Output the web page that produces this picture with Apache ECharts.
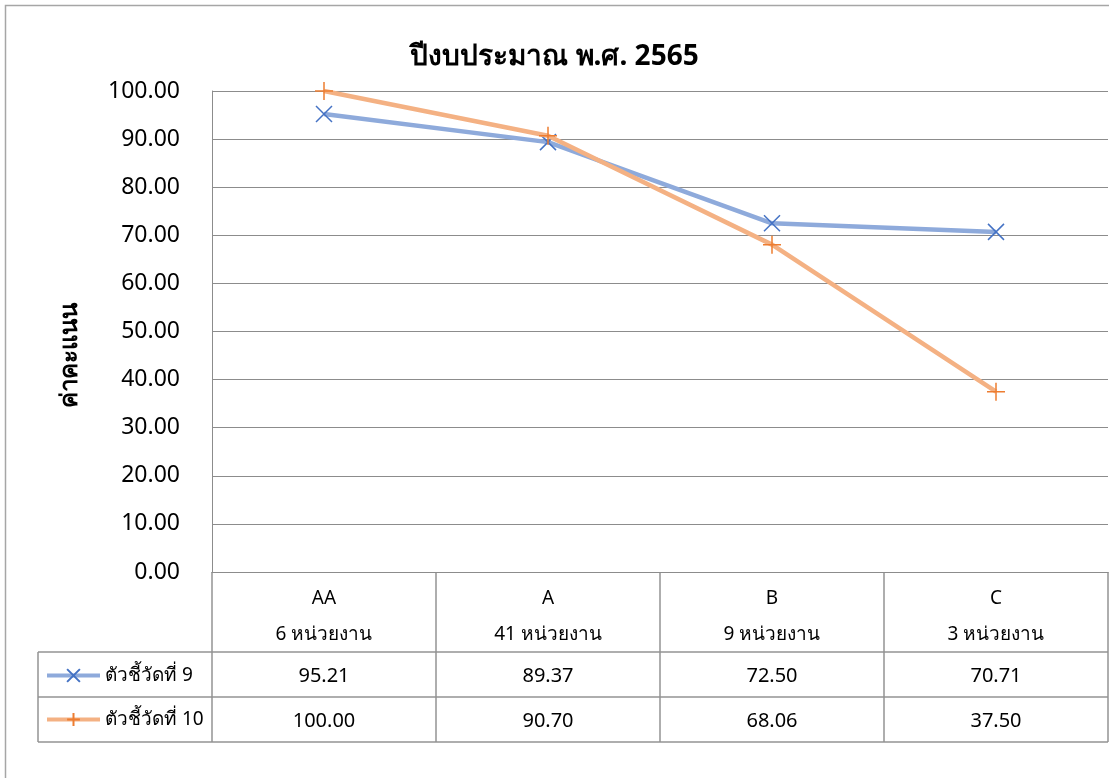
<!DOCTYPE html>
<html>
<head>
<meta charset="utf-8">
<script src="https://cdn.jsdelivr.net/npm/echarts@6/dist/echarts.min.js"></script>
<style>
  html, body { margin: 0; padding: 0; background: #fff; }
  #chart { width: 1109px; height: 778px; }
</style>
</head>
<body>
<div id="chart"></div>
<script>
// data
var categories = ['AA', 'A', 'B', 'C'];
var unitCounts = ['6 หน่วยงาน', '41 หน่วยงาน', '9 หน่วยงาน', '3 หน่วยงาน'];
var seriesNames = ['ตัวชี้วัดที่ 9', 'ตัวชี้วัดที่ 10'];
var kpi9 = [95.21, 89.37, 72.50, 70.71];
var kpi10 = [100.00, 90.70, 68.06, 37.50];
var yTicks = [0, 10, 20, 30, 40, 50, 60, 70, 80, 90, 100];

var FONT = '"Noto Sans", "DejaVu Sans", sans-serif';
var GRID_COLOR = '#8c8c8c';
var TABLE_COLOR = '#939393';

var xLabels = categories.map(function (c, i) { return c + '\n' + unitCounts[i]; });

var myChart = echarts.init(document.getElementById('chart'));
var option = {
    animation: false,
    textStyle: { fontFamily: FONT },
    title: {
        text: 'ปีงบประมาณ พ.ศ. 2565',
        left: 'center',
        top: 38,
        textStyle: { fontSize: 28, fontWeight: 'bold', color: '#000', fontFamily: FONT }
    },
    legend: {
        orient: 'vertical',
        left: 45,
        top: 666,
        padding: 0,
        itemWidth: 53,
        itemHeight: 16,
        itemGap: 25,
        lineStyle: { width: 4 },
        textStyle: { fontSize: 19, color: '#000', fontFamily: FONT },
        data: seriesNames
    },
    grid: { left: 212, right: 1, top: 91, bottom: 206, containLabel: false },
    xAxis: {
        type: 'category',
        data: xLabels,
        boundaryGap: true,
        axisLine: { show: true, lineStyle: { color: GRID_COLOR, width: 1 } },
        axisTick: { show: false },
        axisLabel: {
            margin: 9,
            fontSize: 19,
            lineHeight: 36,
            color: '#000',
            fontFamily: FONT
        }
    },
    yAxis: {
        type: 'value',
        min: yTicks[0],
        max: yTicks[yTicks.length - 1],
        interval: yTicks[1] - yTicks[0],
        axisLine: { show: true, lineStyle: { color: GRID_COLOR, width: 1 } },
        axisTick: { show: false },
        splitLine: { lineStyle: { color: GRID_COLOR, width: 1 } },
        axisLabel: {
            margin: 32,
            fontSize: 23,
            color: '#000',
            fontFamily: FONT,
            formatter: function (v) { return v.toFixed(2); }
        }
    },
    series: [
        {
            name: seriesNames[0],
            type: 'line',
            data: kpi9,
            symbol: 'path://M0,0L10,10M10,0L0,10',
            symbolSize: 16,
            showAllSymbol: true,
            lineStyle: { color: '#8eaadb', width: 4.5 },
            itemStyle: { color: '#4472c4', borderColor: '#4472c4', borderWidth: 1.5 },
            z: 3
        },
        {
            name: seriesNames[1],
            type: 'line',
            data: kpi10,
            symbol: 'path://M5,0L5,10M0,5L10,5',
            symbolSize: 18,
            showAllSymbol: true,
            lineStyle: { color: '#f4b183', width: 4.5 },
            itemStyle: { color: '#ed7d31', borderColor: '#ed7d31', borderWidth: 1.5 },
            z: 4
        }
    ]
};
myChart.setOption(option);

// data table under the plot, placed from the axis scale
function drawTable() {
    var xs = categories.map(function (c, i) {
        return myChart.convertToPixel({ xAxisIndex: 0 }, i);
    });
    var step = xs[1] - xs[0];
    var yBase = myChart.convertToPixel({ yAxisIndex: 0 }, 0);
    var headBottom = yBase + 80;
    var row1Bottom = headBottom + 45;
    var row2Bottom = row1Bottom + 45;
    var leftEdge = 38;
    var plotLeft = xs[0] - step / 2;
    var plotRight = xs[xs.length - 1] + step / 2;
    var els = [];
    var ls = { stroke: TABLE_COLOR, lineWidth: 1.5 };

    // outer chart frame
    els.push({ type: 'rect', shape: { x: 5.5, y: 5.5, width: 1200, height: 1000 },
        style: { fill: 'none', stroke: '#a6a6a6', lineWidth: 1.5 }, silent: true });

    [headBottom, row1Bottom, row2Bottom].forEach(function (y) {
        els.push({ type: 'line', shape: { x1: leftEdge, y1: y, x2: plotRight, y2: y }, style: ls });
    });
    els.push({ type: 'line', shape: { x1: leftEdge, y1: headBottom, x2: leftEdge, y2: row2Bottom }, style: ls });
    for (var i = 0; i <= xs.length; i++) {
        var bx = plotLeft + step * i;
        els.push({ type: 'line', shape: { x1: bx, y1: yBase, x2: bx, y2: row2Bottom }, style: ls });
    }
    [kpi9, kpi10].forEach(function (vals, r) {
        var cy = (r === 0 ? (headBottom + row1Bottom) : (row1Bottom + row2Bottom)) / 2 + 2;
        vals.forEach(function (v, i) {
            els.push({ type: 'text', x: xs[i], y: cy,
                style: { text: v.toFixed(2), fontSize: 20, fontFamily: FONT, fill: '#000',
                    align: 'center', verticalAlign: 'middle' } });
        });
    });

    // y axis title
    els.push({ type: 'text', x: 70, y: 355, rotation: Math.PI / 2,
        style: { text: 'ค่าคะแนน', fontSize: 24, fontWeight: 'bold', fontFamily: FONT, fill: '#000',
            align: 'center', verticalAlign: 'middle' } });

    myChart.setOption({ graphic: els });
}
drawTable();
</script>
</body>
</html>
